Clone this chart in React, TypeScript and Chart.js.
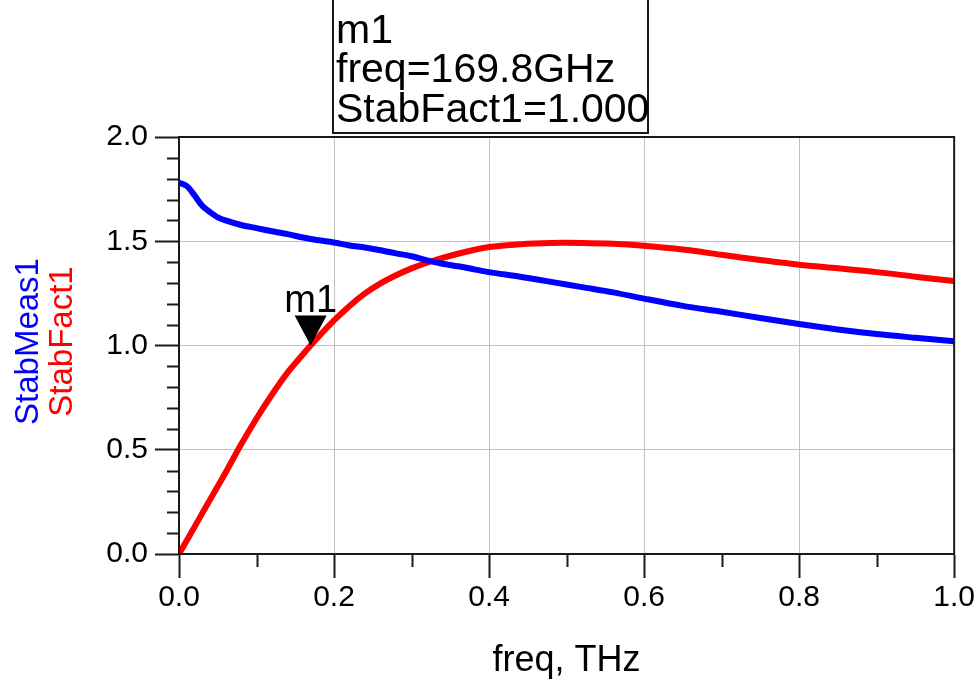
import React, { useEffect, useRef } from "react";
import { Chart, registerables } from "chart.js";

Chart.register(...registerables);

// ---- data ----
const freqTHz = [0, 0.01, 0.02, 0.03, 0.04, 0.05, 0.06, 0.08, 0.10, 0.12, 0.14, 0.16, 0.1698, 0.18, 0.20, 0.22, 0.24, 0.26, 0.28, 0.30, 0.32, 0.34, 0.36, 0.38, 0.40, 0.44, 0.48, 0.52, 0.56, 0.60, 0.65, 0.70, 0.75, 0.80, 0.85, 0.90, 0.95, 1.00];
const stabMeas1 = [1.78, 1.765, 1.72, 1.67, 1.64, 1.615, 1.60, 1.578, 1.563, 1.548, 1.534, 1.518, 1.511, 1.505, 1.494, 1.48, 1.47, 1.457, 1.442, 1.428, 1.408, 1.392, 1.38, 1.366, 1.352, 1.33, 1.305, 1.28, 1.255, 1.225, 1.19, 1.162, 1.132, 1.103, 1.077, 1.055, 1.037, 1.02];
const stabFact1 = [0, 0.065, 0.13, 0.195, 0.26, 0.325, 0.39, 0.525, 0.65, 0.765, 0.87, 0.958, 1.0, 1.042, 1.12, 1.19, 1.25, 1.298, 1.337, 1.37, 1.397, 1.42, 1.44, 1.458, 1.472, 1.486, 1.492, 1.492, 1.488, 1.478, 1.46, 1.435, 1.41, 1.387, 1.37, 1.352, 1.33, 1.309];
const xMinorTicks = [0.1, 0.3, 0.5, 0.7, 0.9];
const yMinorTicks = [0.1, 0.2, 0.3, 0.4, 0.6, 0.7, 0.8, 0.9, 1.1, 1.2, 1.3, 1.4, 1.6, 1.7, 1.8, 1.9];
const markerName = "m1";
const markerFreq = 0.1698;
const markerValue = 1.0;
const markerLines = ["m1", "freq=169.8GHz", "StabFact1=1.000"];
const yTitles = [
  { text: "StabMeas1", color: "#0000ff" },
  { text: "StabFact1", color: "#ff0000" },
];

const FONT = "'Liberation Sans', Arial, sans-serif";

const decorPlugin = {
  id: "decor",
  afterDraw(chart: any) {
    const ctx = chart.ctx as CanvasRenderingContext2D;
    const { left, right, top, bottom } = chart.chartArea;
    const xs = chart.scales.x;
    const ys = chart.scales.y;
    ctx.save();
    // frame
    ctx.strokeStyle = "#1a1a1a";
    ctx.lineWidth = 2;
    ctx.strokeRect(left, top, right - left, bottom - top);
    // minor ticks
    ctx.beginPath();
    for (const v of xMinorTicks) {
      const px = Math.round(xs.getPixelForValue(v)) + 0.5;
      ctx.moveTo(px, bottom);
      ctx.lineTo(px, bottom + 13);
    }
    for (const v of yMinorTicks) {
      const py = Math.round(ys.getPixelForValue(v)) + 0.5;
      ctx.moveTo(left, py);
      ctx.lineTo(left - 12, py);
    }
    ctx.stroke();

    // y titles
    ctx.font = `33px ${FONT}`;
    ctx.textAlign = "center";
    ctx.textBaseline = "alphabetic";
    const cy = (top + bottom) / 2 - 4;
    const bx = [38, 72];
    yTitles.forEach((t, i) => {
      ctx.save();
      ctx.translate(bx[i], cy);
      ctx.rotate(-Math.PI / 2);
      ctx.fillStyle = t.color;
      ctx.fillText(t.text, 0, 0);
      ctx.restore();
    });

    // marker triangle
    const mx = xs.getPixelForValue(markerFreq);
    const my = ys.getPixelForValue(markerValue);
    ctx.fillStyle = "#000";
    ctx.beginPath();
    ctx.moveTo(mx, my);
    ctx.lineTo(mx - 16, my - 30);
    ctx.lineTo(mx + 16, my - 30);
    ctx.closePath();
    ctx.fill();
    ctx.font = `38px ${FONT}`;
    ctx.textAlign = "center";
    ctx.fillText(markerName, mx, my - 34);

    // marker readout box
    const boxL = 333, boxR = 648, boxB = 133;
    ctx.fillStyle = "#fff";
    ctx.fillRect(boxL, -5, boxR - boxL, boxB + 5);
    ctx.strokeStyle = "#1a1a1a";
    ctx.lineWidth = 2;
    ctx.strokeRect(boxL, -5, boxR - boxL, boxB + 5);
    ctx.fillStyle = "#000";
    ctx.textAlign = "left";
    ctx.font = `41px ${FONT}`;
    const baselines = [43, 82, 122];
    markerLines.forEach((s, i) => {
      ctx.fillText(s, boxL + 3, baselines[i]);
    });
    ctx.restore();
  },
};

export default function App() {
  const ref = useRef<HTMLCanvasElement>(null);
  useEffect(() => {
    if (!ref.current) return;
    const chart = new Chart(ref.current, {
      type: "line",
      data: {
        datasets: [
          {
            label: "StabMeas1",
            data: freqTHz.map((f, i) => ({ x: f, y: stabMeas1[i] })),
            borderColor: "#0000ff",
            borderWidth: 6,
            pointRadius: 0,
            tension: 0.3,
            fill: false,
          },
          {
            label: "StabFact1",
            data: freqTHz.map((f, i) => ({ x: f, y: stabFact1[i] })),
            borderColor: "#ff0000",
            borderWidth: 6,
            pointRadius: 0,
            tension: 0.3,
            fill: false,
          },
        ],
      },
      options: {
        animation: false,
        responsive: false,
        layout: { padding: { left: 0, top: 137, right: 21, bottom: 0 } },
        plugins: { legend: { display: false }, tooltip: { enabled: false } },
        scales: {
          x: {
            type: "linear",
            min: 0,
            max: 1,
            afterFit: (s: any) => { s.height = 125; },
            ticks: {
              stepSize: 0.2,
              color: "#000",
              font: { family: FONT, size: 30 },
              padding: 2,
              maxRotation: 0,
              callback: (v: any) => Number(v).toFixed(1),
            },
            grid: { color: "#c0c0c0", lineWidth: 1, tickLength: 24, tickColor: "#1a1a1a", tickWidth: 2 },
            border: { color: "#1a1a1a", width: 2 },
            title: {
              display: true,
              text: "freq, THz",
              color: "#000",
              font: { family: FONT, size: 36, lineHeight: 1 },
              padding: 0,
            },
          },
          y: {
            type: "linear",
            min: 0,
            max: 2,
            afterFit: (s: any) => { s.width = 179; },
            ticks: {
              stepSize: 0.5,
              color: "#000",
              font: { family: FONT, size: 30 },
              padding: 7,
              callback: (v: any) => Number(v).toFixed(1),
            },
            grid: { color: "#c0c0c0", lineWidth: 1, tickLength: 24, tickColor: "#1a1a1a", tickWidth: 2 },
            border: { color: "#1a1a1a", width: 2 },
          },
        },
      },
      plugins: [decorPlugin],
    });
    return () => chart.destroy();
  }, []);
  return (
    <div style={{ position: "fixed", left: 0, top: 0, width: 977, height: 679, background: "#fff" }}>
      <canvas ref={ref} width={977} height={679} style={{ display: "block" }} />
    </div>
  );
}
